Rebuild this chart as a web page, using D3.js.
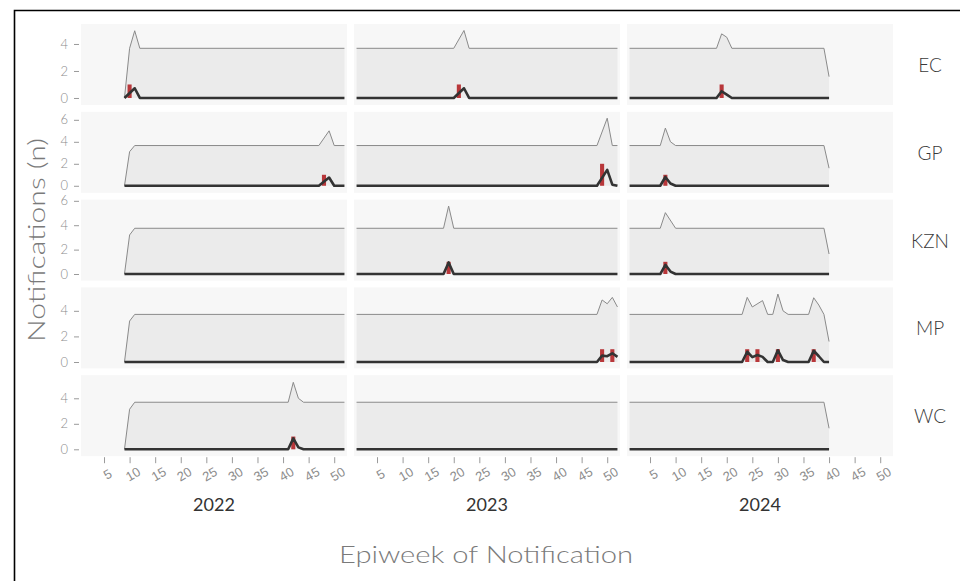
<!DOCTYPE html>
<html>
<head>
<meta charset="utf-8">
<script src="https://cdn.jsdelivr.net/npm/d3@7"></script>
<style>
  html, body { margin: 0; padding: 0; background: #ffffff; }
  svg { display: block; font-family: "Lato", "Noto Sans", sans-serif; }
</style>
</head>
<body>
<svg id="chart" width="960" height="581"></svg>
<script>
// ---------------- DATA ----------------
const regions = ["EC", "GP", "KZN", "MP", "WC"];
const years = [2022, 2023, 2024];
const weekTicks = [5, 10, 15, 20, 25, 30, 35, 40, 45, 50];
const weekDomain = [0.5, 52.5];

const yTicks = { EC: [0, 2, 4], GP: [0, 2, 4, 6], KZN: [0, 2, 4, 6], MP: [0, 2, 4], WC: [0, 2, 4] };
const yLimits = { EC: [-0.52, 5.48], GP: [-0.64, 6.73], KZN: [-0.54, 6.1], MP: [-0.5, 5.83], WC: [-0.54, 5.81] };

// upper threshold (grey band top), [epiweek, value]
const thresholdEC = {
  2022: [[9, 0], [10, 3.68], [11, 4.98], [12, 3.68], [52, 3.68]],
  2023: [[1, 3.68], [20, 3.68], [22, 5.0], [23, 3.68], [52, 3.68]],
  2024: [[1, 3.68], [18, 3.68], [19, 4.75], [20, 4.5], [21, 3.68], [39, 3.68], [40, 1.58]]
};
const thresholdGP = {
  2022: [[9, 0], [10, 3.1], [11, 3.66], [47, 3.66], [49, 5.0], [50, 3.66], [52, 3.66]],
  2023: [[1, 3.66], [48, 3.66], [50, 6.15], [51, 3.66], [52, 3.66]],
  2024: [[1, 3.66], [7, 3.66], [8, 5.25], [9, 4.0], [10, 3.66], [39, 3.66], [40, 1.6]]
};
const thresholdKZN = {
  2022: [[9, 0], [10, 3.2], [11, 3.75], [52, 3.75]],
  2023: [[1, 3.75], [18, 3.75], [19, 5.57], [20, 3.75], [52, 3.75]],
  2024: [[1, 3.75], [7, 3.75], [8, 5.03], [10, 3.75], [39, 3.75], [40, 1.64]]
};
const thresholdMP = {
  2022: [[9, 0], [10, 3.2], [11, 3.72], [52, 3.72]],
  2023: [[1, 3.72], [48, 3.72], [49, 4.85], [50, 4.55], [51, 5.05], [52, 4.3]],
  2024: [[1, 3.72], [23, 3.72], [24, 5.05], [25, 4.3], [27, 4.8], [28, 3.72], [29, 3.72], [30, 5.31],
         [31, 4.0], [32, 3.72], [36, 3.72], [37, 5.02], [38, 4.45], [39, 3.72], [40, 1.6]]
};
const thresholdWC = {
  2022: [[9, 0], [10, 3.14], [11, 3.69], [41, 3.69], [42, 5.25], [43, 4.0], [44, 3.69], [52, 3.69]],
  2023: [[1, 3.69], [52, 3.69]],
  2024: [[1, 3.69], [39, 3.69], [40, 1.65]]
};

// weekly notifications (red bars), [epiweek, count]
const countsEC = { 2022: [[10, 1]], 2023: [[21, 1]], 2024: [[19, 1]] };
const countsGP = { 2022: [[48, 1]], 2023: [[49, 2]], 2024: [[8, 1]] };
const countsKZN = { 2022: [], 2023: [[19, 1]], 2024: [[8, 1]] };
const countsMP = { 2022: [], 2023: [[49, 1], [51, 1]], 2024: [[24, 1], [26, 1], [30, 1], [37, 1]] };
const countsWC = { 2022: [[42, 1]], 2023: [], 2024: [] };

// smoothed notifications (dark line), [epiweek, value]
const trendEC = {
  2022: [[9, 0], [11, 0.72], [12, 0], [52, 0]],
  2023: [[1, 0], [20, 0], [22, 0.72], [23, 0], [52, 0]],
  2024: [[1, 0], [18, 0], [19, 0.5], [20, 0.25], [21, 0], [40, 0]]
};
const trendGP = {
  2022: [[9, 0], [47, 0], [49, 0.75], [50, 0], [52, 0]],
  2023: [[1, 0], [48, 0], [50, 1.45], [51, 0.1], [52, 0]],
  2024: [[1, 0], [7, 0], [8, 0.8], [9, 0.2], [10, 0], [40, 0]]
};
const trendKZN = {
  2022: [[9, 0], [52, 0]],
  2023: [[1, 0], [18, 0], [19, 0.95], [20, 0], [52, 0]],
  2024: [[1, 0], [7, 0], [8, 0.75], [9, 0.2], [10, 0], [40, 0]]
};
const trendMP = {
  2022: [[9, 0], [52, 0]],
  2023: [[1, 0], [48, 0], [49, 0.5], [50, 0.45], [51, 0.68], [52, 0.4]],
  2024: [[1, 0], [23, 0], [24, 0.8], [25, 0.38], [26, 0.55], [27, 0.4], [28, 0], [29, 0], [30, 0.92],
         [31, 0.15], [32, 0], [36, 0], [37, 0.88], [38, 0.45], [39, 0], [40, 0]]
};
const trendWC = {
  2022: [[9, 0], [41, 0], [42, 0.86], [43, 0.15], [44, 0], [52, 0]],
  2023: [[1, 0], [52, 0]],
  2024: [[1, 0], [40, 0]]
};

const thresholds = { EC: thresholdEC, GP: thresholdGP, KZN: thresholdKZN, MP: thresholdMP, WC: thresholdWC };
const counts = { EC: countsEC, GP: countsGP, KZN: countsKZN, MP: countsMP, WC: countsWC };
const trends = { EC: trendEC, GP: trendGP, KZN: trendKZN, MP: trendMP, WC: trendWC };

// ---------------- LAYOUT ----------------
const svg = d3.select("#chart");
const panelW = 266, panelH = 81;
const colX = d3.scaleBand().domain(years).range([81, 81 + 3 * panelW + 2 * 7]).paddingInner(7 / 273);
const rowY = d3.scaleBand().domain(regions).range([24, 24 + 5 * panelH + 4 * 6.8]).paddingInner(6.8 / 87.8);

svg.append("rect").attr("width", 960).attr("height", 581).attr("fill", "#ffffff");
svg.append("path").attr("d", "M14.5,600 V10.5 H980")
  .attr("fill", "none").attr("stroke", "#000").attr("stroke-width", 1.6);

const colors = {
  panel: "#f7f7f7", band: "#ebebeb", bandLine: "#8a8a8a",
  bar: "#b8373a", trend: "#333333", tick: "#9a9a9a", tickText: "#8c8c8c",
  strip: "#3a3a3a", title: "#7a7a7a"
};

regions.forEach(region => {
  const top = rowY(region);
  const y = d3.scaleLinear().domain(yLimits[region]).range([top + panelH, top]);

  // y axis (left of first column)
  const yAxisG = svg.append("g").attr("transform", `translate(${colX(years[0]) - 2},0)`);
  const yAxis = d3.axisLeft(y).tickValues(yTicks[region]).tickSize(5).tickPadding(6)
    .tickFormat(d3.format("d"));
  yAxisG.call(yAxis);
  yAxisG.select(".domain").remove();
  yAxisG.selectAll(".tick line").attr("stroke", colors.tick).attr("stroke-width", 1);
  yAxisG.selectAll(".tick text").attr("fill", colors.tickText).attr("font-size", 13)
    .attr("font-weight", 300).attr("font-family", "Lato, sans-serif");

  years.forEach(year => {
    const left = colX(year);
    const x = d3.scaleLinear().domain(weekDomain).range([left, left + panelW]);
    const g = svg.append("g");

    g.append("rect").attr("x", left).attr("y", top).attr("width", panelW).attr("height", panelH)
      .attr("fill", colors.panel);

    const thr = thresholds[region][year];
    const area = d3.area().x(d => x(d[0])).y0(y(0)).y1(d => y(d[1]));
    const line = d3.line().x(d => x(d[0])).y(d => y(d[1]));
    g.append("path").attr("d", area(thr)).attr("fill", colors.band);
    g.append("path").attr("d", line(thr)).attr("fill", "none")
      .attr("stroke", colors.bandLine).attr("stroke-width", 1);

    const bw = (x(1.8) - x(1));
    g.selectAll("rect.bar").data(counts[region][year]).enter().append("rect")
      .attr("class", "bar")
      .attr("x", d => x(d[0]) - bw / 2).attr("width", bw)
      .attr("y", d => y(d[1])).attr("height", d => y(0) - y(d[1]))
      .attr("fill", colors.bar);

    g.append("path").attr("d", line(trends[region][year])).attr("fill", "none")
      .attr("stroke", colors.trend).attr("stroke-width", 2.6)
      .attr("stroke-linejoin", "round").attr("stroke-linecap", "butt");
  });

  // strip label on the right
  svg.append("text").attr("x", 930).attr("y", top + panelH / 2)
    .attr("text-anchor", "middle").attr("dominant-baseline", "central")
    .attr("font-size", 19).attr("font-weight", 300).attr("fill", colors.strip).text(region);
});

// x axes below the last row
const bottom = rowY(regions[regions.length - 1]) + panelH;
years.forEach(year => {
  const left = colX(year);
  const x = d3.scaleLinear().domain(weekDomain).range([left, left + panelW]);
  const g = svg.append("g").attr("transform", `translate(0,${bottom + 1})`);
  const ax = d3.axisBottom(x).tickValues(weekTicks).tickSize(6).tickFormat(d3.format("d"));
  g.call(ax);
  g.select(".domain").remove();
  g.selectAll(".tick line").attr("stroke", colors.tick);
  g.selectAll(".tick text")
    .attr("fill", colors.tickText).attr("font-size", 13).attr("font-weight", 300)
    .attr("text-anchor", "middle").attr("dominant-baseline", "central")
    .attr("y", 0).attr("dy", null)
    .attr("transform", "translate(3,17) rotate(-30)");

  svg.append("text").attr("x", left + panelW / 2).attr("y", 504)
    .attr("text-anchor", "middle").attr("dominant-baseline", "central")
    .attr("font-size", 18).attr("font-weight", 400).attr("fill", "#333333").text(year);
});

// axis titles
svg.append("text").attr("x", 486).attr("y", 563)
  .attr("text-anchor", "middle").attr("font-size", 23).attr("font-weight", 300).attr("fill", colors.title)
  .attr("textLength", 294).attr("lengthAdjust", "spacingAndGlyphs")
  .text("Epiweek of Notification");
svg.append("text")
  .attr("transform", "translate(45,240) rotate(-90)")
  .attr("text-anchor", "middle").attr("font-size", 23).attr("font-weight", 300).attr("fill", colors.title)
  .attr("textLength", 204).attr("lengthAdjust", "spacingAndGlyphs")
  .text("Notifications (n)");
</script>
</body>
</html>
